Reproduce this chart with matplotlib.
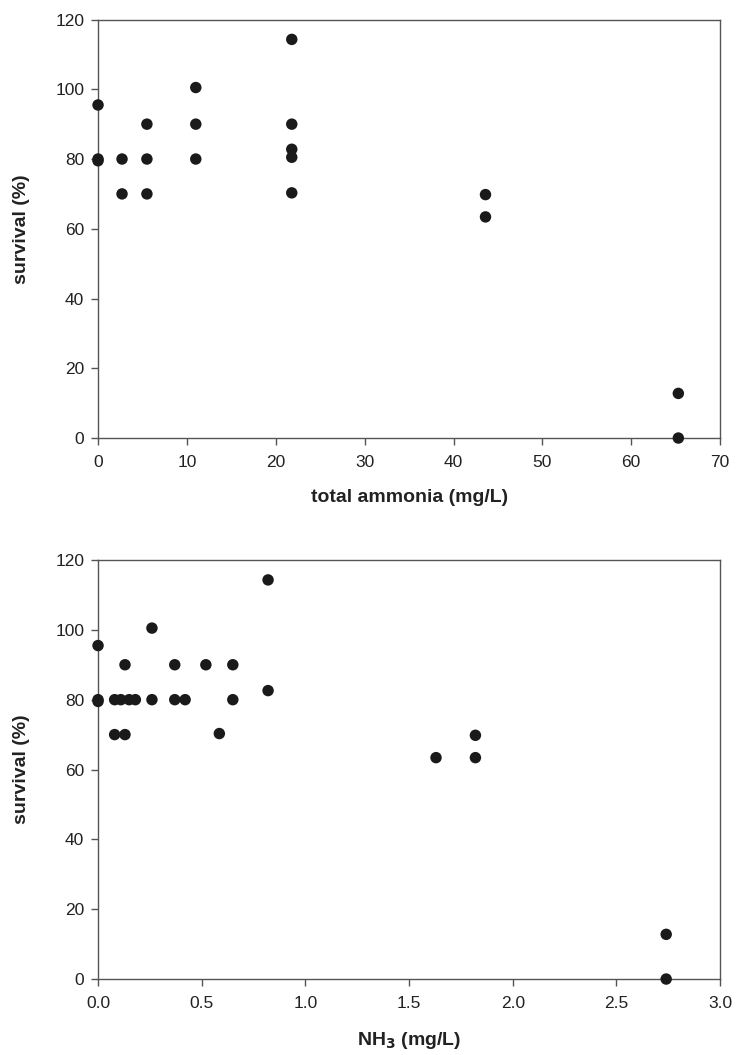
import matplotlib
matplotlib.use("Agg")
import matplotlib.pyplot as plt

plt.rcParams['font.family'] = ['Liberation Sans', 'DejaVu Sans']

# Top panel: total ammonia (mg/L) vs survival (%)
total_ammonia = [0, 0, 0, 2.7, 2.7, 5.5, 5.5, 5.5, 11.0, 11.0, 11.0,
                 21.8, 21.8, 21.8, 21.8, 21.8, 43.6, 43.6, 65.3, 65.3]
survival_top = [95.5, 80, 79.5, 80, 70, 90, 80, 70, 100.5, 90, 80,
                114.3, 90, 82.8, 80.5, 70.3, 69.8, 63.4, 12.8, 0]

# Bottom panel: NH3 (mg/L) vs survival (%)
nh3 = [0, 0, 0, 0.08, 0.08, 0.11, 0.13, 0.13, 0.15, 0.18, 0.26, 0.26,
       0.37, 0.37, 0.42, 0.52, 0.585, 0.65, 0.65, 0.82, 0.82,
       1.63, 1.82, 1.82, 2.74, 2.74]
survival_bot = [95.5, 80, 79.5, 80, 70, 80, 90, 70, 80, 80, 100.5, 80,
                90, 80, 80, 90, 70.3, 90, 80, 114.3, 82.6,
                63.4, 69.8, 63.4, 12.8, 0]

top_xticks = [0, 10, 20, 30, 40, 50, 60, 70]
bot_xticks = [0.0, 0.5, 1.0, 1.5, 2.0, 2.5, 3.0]
yticks = [0, 20, 40, 60, 80, 100, 120]

fig = plt.figure(figsize=(7.36, 10.55), dpi=100)
ax1 = fig.add_axes([0.1332, 0.5848, 0.8452, 0.3967])
ax2 = fig.add_axes([0.1332, 0.0720, 0.8452, 0.3972])

spine_col = '#555555'
dot_col = '#1a1a1a'

def style(ax, xs, ys, xticks, xlim, xlabel, fmt):
    ax.scatter(xs, ys, s=68, color=dot_col, edgecolors='none', zorder=3, clip_on=False)
    ax.set_xlim(*xlim)
    ax.set_ylim(0, 120)
    ax.set_xticks(xticks)
    ax.set_xticklabels([fmt.format(v) for v in xticks])
    ax.set_yticks(yticks)
    for s in ax.spines.values():
        s.set_color(spine_col)
        s.set_linewidth(1.0)
    ax.tick_params(direction='out', length=5, width=1, color=spine_col,
                   labelsize=12.5, labelcolor='#222222')
    ax.tick_params(axis='x', pad=7)
    ax.tick_params(axis='y', pad=5)
    ax.set_xlabel(xlabel, fontsize=14, fontweight='bold', labelpad=14, color='#222222')
    ax.set_ylabel('survival (%)', fontsize=14, fontweight='bold', labelpad=18, color='#222222')

style(ax1, total_ammonia, survival_top, top_xticks, (0, 70), 'total ammonia (mg/L)', '{:g}')
style(ax2, nh3, survival_bot, bot_xticks, (0, 3.0), r'NH$_\mathbf{3}$ (mg/L)', '{:.1f}')

fig.savefig('out.png', dpi=100)
